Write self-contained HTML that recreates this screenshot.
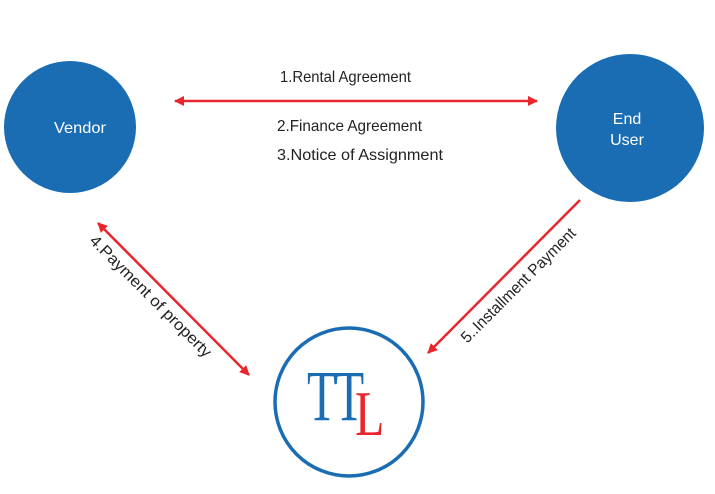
<!DOCTYPE html>
<html><head><meta charset="utf-8"><style>
html,body{margin:0;padding:0;background:#fff;}
svg{display:block;}
text{font-family:"Liberation Sans",sans-serif;fill:#222;}
</style></head><body>
<svg width="715" height="494" viewBox="0 0 715 494" xmlns="http://www.w3.org/2000/svg">
<defs>
<marker id="a" viewBox="0 0 10 10" refX="9" refY="5" markerWidth="4" markerHeight="4" orient="auto-start-reverse" markerUnits="strokeWidth">
<path d="M0,0 L10,5 L0,10 Z" fill="#e8262b"/>
</marker>
</defs>
<circle cx="70" cy="127" r="66" fill="#1a6db3"/>
<text x="80" y="133" font-size="16" text-anchor="middle" textLength="52" lengthAdjust="spacingAndGlyphs" style="fill:#fff">Vendor</text>
<circle cx="630" cy="128" r="74" fill="#1a6db3"/>
<text x="627" y="124" font-size="16" text-anchor="middle" style="fill:#fff">End</text>
<text x="627" y="145" font-size="16" text-anchor="middle" style="fill:#fff">User</text>
<circle cx="349" cy="402" r="74" fill="none" stroke="#1a6db3" stroke-width="3.5"/>
<g transform="translate(307,420) scale(0.68,1)">
<text x="0" y="0" font-size="72" style="font-family:'Liberation Serif',serif;fill:#1a6db3">T</text>
<text x="40" y="0" font-size="72" style="font-family:'Liberation Serif',serif;fill:#1a6db3">T</text>
</g>
<text x="355" y="435" font-size="64" transform="translate(355,0) scale(0.75,1) translate(-355,0)" style="font-family:'Liberation Serif',serif;fill:#e8262b">L</text>
<line x1="175" y1="101" x2="537" y2="101" stroke="#e8262b" stroke-width="2.5" marker-start="url(#a)" marker-end="url(#a)"/>
<line x1="98" y1="223" x2="249" y2="375" stroke="#e8262b" stroke-width="2.5" marker-start="url(#a)" marker-end="url(#a)"/>
<line x1="580" y1="200" x2="428" y2="353" stroke="#e8262b" stroke-width="2.5" marker-end="url(#a)"/>
<text x="280" y="82" font-size="16" textLength="131" lengthAdjust="spacingAndGlyphs">1.Rental Agreement</text>
<text x="277" y="131" font-size="16" textLength="145" lengthAdjust="spacingAndGlyphs">2.Finance Agreement</text>
<text x="277" y="160" font-size="16" textLength="166" lengthAdjust="spacingAndGlyphs">3.Notice of  Assignment</text>
<text transform="translate(147,300) rotate(45)" font-size="16" text-anchor="middle" textLength="165" lengthAdjust="spacingAndGlyphs">4.Payment  of property</text>
<text transform="translate(522,289) rotate(-45)" font-size="16" text-anchor="middle" textLength="155" lengthAdjust="spacingAndGlyphs">5..Installment Payment</text>
</svg>
</body></html>
